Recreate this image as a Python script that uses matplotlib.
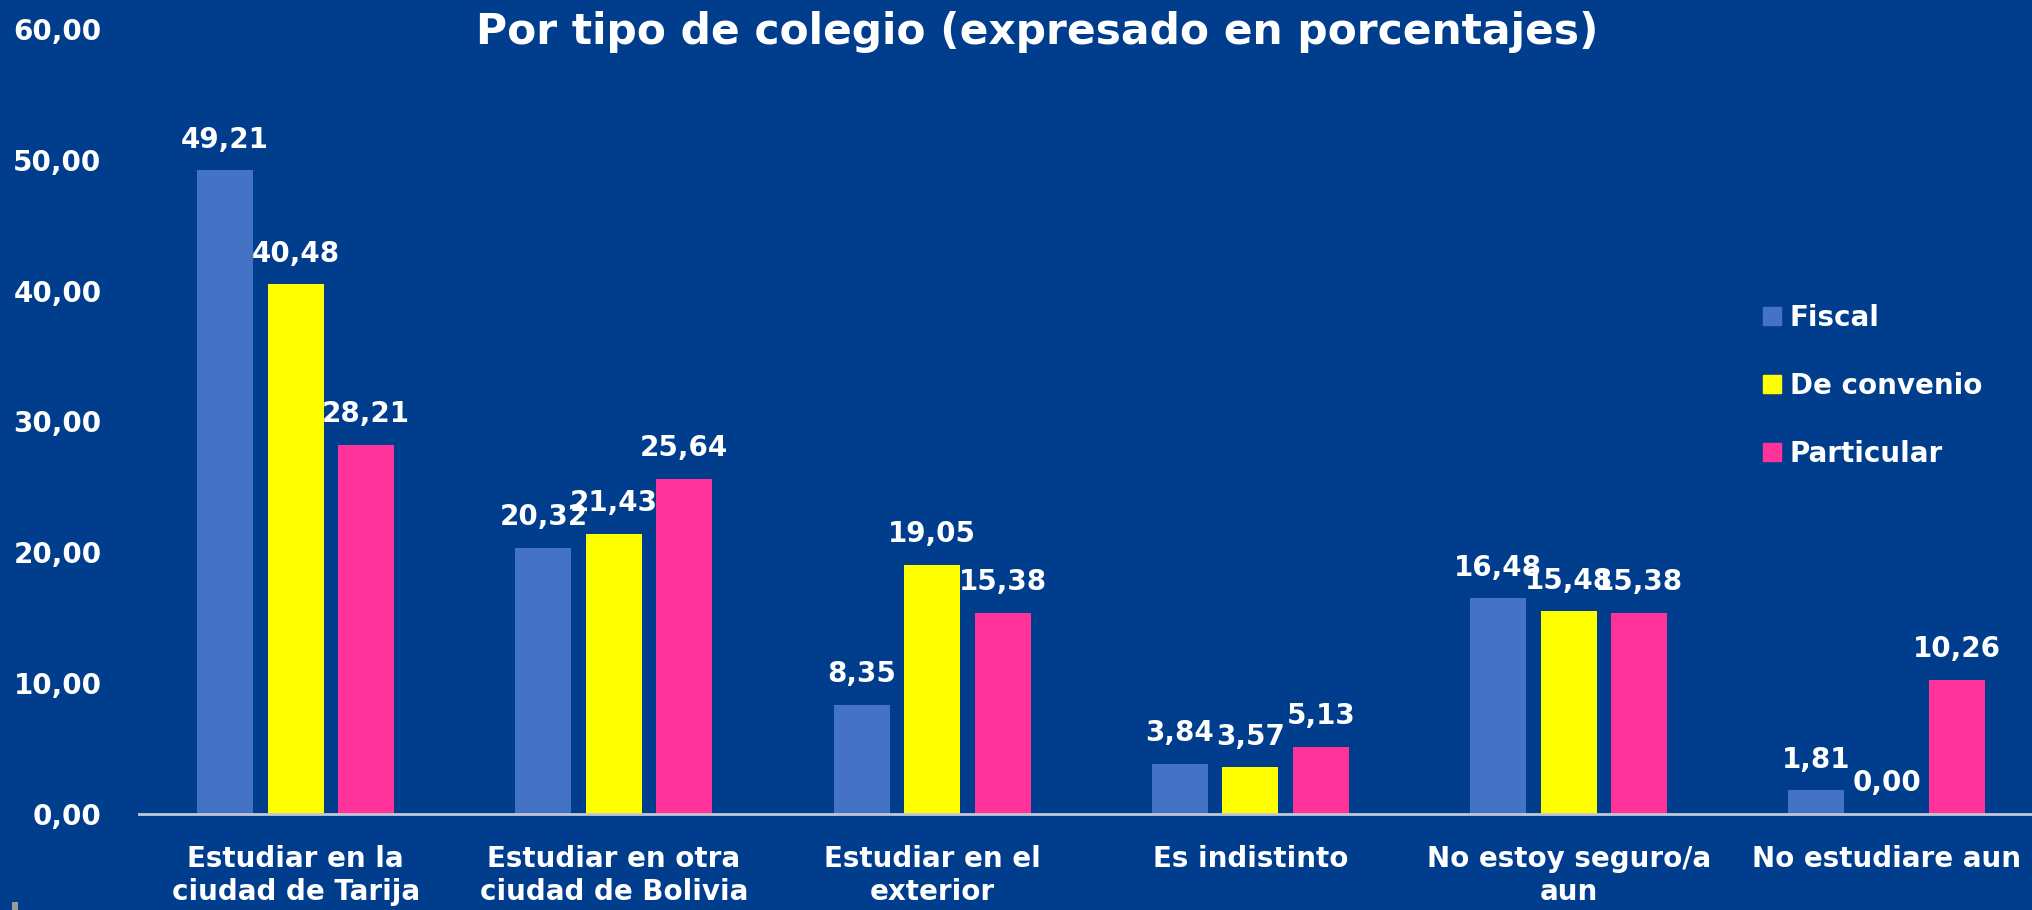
import numpy as np
import matplotlib
matplotlib.use("Agg")
import matplotlib.pyplot as plt
from matplotlib.lines import Line2D
from matplotlib.patches import Rectangle

# datos del gráfico
categorias = [
    'Estudiar en la\nciudad de Tarija',
    'Estudiar en otra\nciudad de Bolivia',
    'Estudiar en el\nexterior',
    'Es indistinto',
    'No estoy seguro/a\naun',
    'No estudiare aun']
series = ['Fiscal', 'De convenio', 'Particular']
fiscal = [49.21, 20.32, 8.35, 3.84, 16.48, 1.81]
convenio = [40.48, 21.43, 19.05, 3.57, 15.48, 0.00]
particular = [28.21, 25.64, 15.38, 5.13, 15.38, 10.26]
yticks = [0, 10, 20, 30, 40, 50, 60]

fondo = '#003D8D'
colores = ['#4472C4', '#FFFF00', '#FF3399']

plt.rcParams['font.family'] = ['DejaVu Sans']
plt.rcParams['font.weight'] = 'bold'

fig = plt.figure(figsize=(20.32, 9.10), dpi=100, facecolor=fondo)
ax = fig.add_axes([139/2032, (910-814)/910, 1 - 139/2032, (814-29)/910])
ax.set_facecolor(fondo)

x = np.arange(len(categorias))
ancho = 0.176
paso = 0.2215
valores = [fiscal, convenio, particular]

for i, (nombre, vals) in enumerate(zip(series, valores)):
    pos = x + (i - 1) * paso
    ax.bar(pos, vals, ancho, color=colores[i], label=nombre, zorder=2)
    for px, v in zip(pos, vals):
        ax.annotate(('%.2f' % v).replace('.', ','), (px, v),
                    xytext=(0, 12), textcoords='offset points',
                    ha='center', va='bottom', color='white',
                    fontsize=20, fontweight='bold')

ax.set_xlim(-0.492, 5.456)
ax.set_ylim(0, 60)
ax.set_yticks(yticks)
ax.set_yticklabels([('%.2f' % t).replace('.', ',') for t in yticks])
ax.set_xticks(x)
ax.set_xticklabels(categorias, linespacing=1.26)
ax.tick_params(axis='both', length=0, colors='white', labelsize=20)
ax.tick_params(axis='y', pad=27)
ax.tick_params(axis='x', pad=22)

for lado in ['top', 'right', 'left']:
    ax.spines[lado].set_visible(False)
ax.spines['bottom'].set_color('#C0C8D8')
ax.spines['bottom'].set_linewidth(2)

fig.text(1037/2032, 1 - 32/910, 'Por tipo de colegio (expresado en porcentajes)',
         ha='center', va='center', color='white', fontsize=30.5, fontweight='bold')

handles = [Line2D([], [], marker='s', linestyle='none', markersize=13,
                  markerfacecolor=c, markeredgecolor=c) for c in colores]
leg = fig.legend(handles, series, loc='upper left',
                 bbox_to_anchor=(1748/2032, 1 - 290/910),
                 frameon=False, fontsize=20, labelspacing=1.44,
                 handlelength=0.7, handletextpad=0.3, borderpad=0)
for t in leg.get_texts():
    t.set_color('white')
    t.set_fontweight('bold')

# pequeña marca gris en la esquina inferior izquierda
fig.patches.append(Rectangle((12/2032, 0), 6/2032, 8/910, transform=fig.transFigure,
                             facecolor='#9A9A9A', edgecolor='none'))

fig.savefig('out.png', dpi=100, facecolor=fondo)
